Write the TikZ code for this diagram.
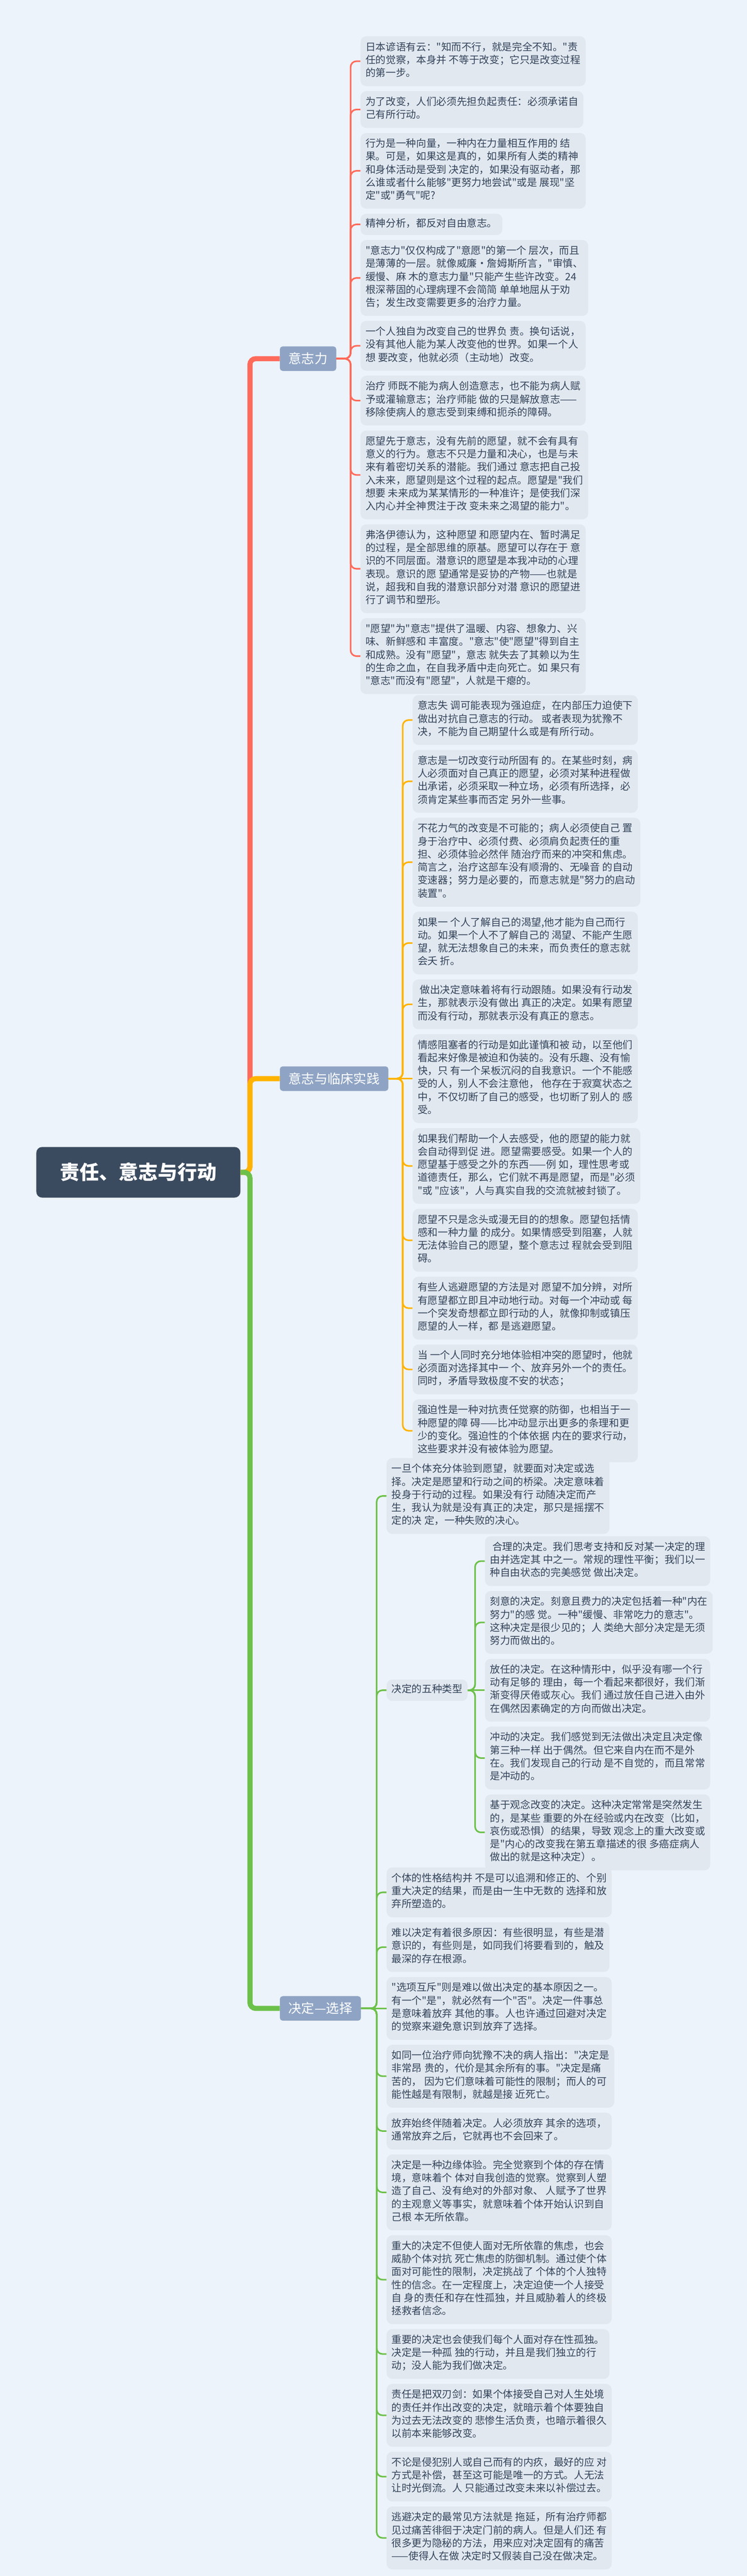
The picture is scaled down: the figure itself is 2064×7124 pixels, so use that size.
\documentclass[tikz,border=0pt]{standalone}
\usepackage{fontspec}
\setmainfont{Noto Sans CJK SC}[Ligatures=TeXOff]
\usetikzlibrary{positioning, calc}
\definecolor{bgcol}{HTML}{EDF3FA}
\definecolor{leafcol}{HTML}{E1E8F0}
\definecolor{inkcol}{HTML}{33435A}
\definecolor{rootcol}{HTML}{3B4B5F}
\definecolor{branchcol}{HTML}{8FA4C4}
\definecolor{willcol}{HTML}{FF6B5B}
\definecolor{clinicol}{HTML}{FFB300}
\definecolor{choicecol}{HTML}{6CC14A}

\begin{document}
\begin{tikzpicture}[x=0.5pt, y=-0.5pt, node distance=6.5pt,
  rootbox/.style={fill=rootcol, text=white, rounded corners=8pt, minimum width=282pt, minimum height=70pt, font=\fontsize{27}{32}\selectfont\bfseries},
  branchbox/.style={fill=branchcol, text=white, rounded corners=4pt, inner xsep=12pt, minimum height=34pt, font=\fontsize{18}{22}\selectfont},
  leaf/.style={fill=leafcol, text=inkcol, rounded corners=8pt, align=left, inner xsep=7pt, inner ysep=7.8pt, font=\fontsize{14}{18}\selectfont, execute at begin node=\strut},
  trunk/.style={line width=7pt, rounded corners=8pt},
  twig/.style={line width=2.2pt, rounded corners=8pt}]
\fill[bgcol] (0,0) rectangle (2064,7124);

\node[leaf, anchor=north west] (b1-1) at (996,100) {日本谚语有云："知而不行，就是完全不知。"责\\任的觉察，本身并 不等于改变；它只是改变过程\\的第一步。};
\node[leaf, below=of b1-1.south west, anchor=north west] (b1-2) {为了改变，人们必须先担负起责任：必须承诺自\\己有所行动。};
\node[leaf, below=of b1-2.south west, anchor=north west] (b1-3) {行为是一种向量，一种内在力量相互作用的 结\\果。可是，如果这是真的，如果所有人类的精神\\和身体活动是受到 决定的，如果没有驱动者，那\\么谁或者什么能够"更努力地尝试"或是 展现"坚\\定"或"勇气"呢?};
\node[leaf, inner ysep=5.75pt, below=of b1-3.south west, anchor=north west] (b1-4) {精神分析，都反对自由意志。};
\node[leaf, below=of b1-4.south west, anchor=north west] (b1-5) {"意志力"仅仅构成了"意愿"的第一个 层次，而且\\是薄薄的一层。就像威廉·詹姆斯所言，"审慎、\\缓慢、麻 木的意志力量"只能产生些许改变。24\\根深蒂固的心理病理不会简简 单单地屈从于劝\\告；发生改变需要更多的治疗力量。};
\node[leaf, below=of b1-5.south west, anchor=north west] (b1-6) {一个人独自为改变自己的世界负 责。换句话说，\\没有其他人能为某人改变他的世界。如果一个人\\想 要改变，他就必须（主动地）改变。};
\node[leaf, below=of b1-6.south west, anchor=north west] (b1-7) {治疗 师既不能为病人创造意志，也不能为病人赋\\予或灌输意志；治疗师能 做的只是解放意志——\\移除使病人的意志受到束缚和扼杀的障碍。};
\node[leaf, below=of b1-7.south west, anchor=north west] (b1-8) {愿望先于意志，没有先前的愿望，就不会有具有\\意义的行为。意志不只是力量和决心，也是与未\\来有着密切关系的潜能。我们通过 意志把自己投\\入未来，愿望则是这个过程的起点。愿望是"我们\\想要 未来成为某某情形的一种准许；是使我们深\\入内心并全神贯注于改 变未来之渴望的能力"。};
\node[leaf, below=of b1-8.south west, anchor=north west] (b1-9) {弗洛伊德认为，这种愿望 和愿望内在、暂时满足\\的过程，是全部思维的原基。愿望可以存在于 意\\识的不同层面。潜意识的愿望是本我冲动的心理\\表现。意识的愿 望通常是妥协的产物——也就是\\说，超我和自我的潜意识部分对潜 意识的愿望进\\行了调节和塑形。};
\node[leaf, below=of b1-9.south west, anchor=north west] (b1-10) {"愿望"为"意志"提供了温暖、内容、想象力、兴\\味、新鲜感和 丰富度。"意志"使"愿望"得到自主\\和成熟。没有"愿望"，意志 就失去了其赖以为生\\的生命之血，在自我矛盾中走向死亡。如 果只有\\"意志"而没有"愿望"，人就是干瘪的。};

\node[leaf, anchor=north west] (b2-1) at (1140,1922) {意志失 调可能表现为强迫症，在内部压力迫使下\\做出对抗自己意志的行动。 或者表现为犹豫不\\决，不能为自己期望什么或是有所行动。};
\node[leaf, below=of b2-1.south west, anchor=north west] (b2-2) {意志是一切改变行动所固有 的。在某些时刻，病\\人必须面对自己真正的愿望，必须对某种进程做\\出承诺，必须采取一种立场，必须有所选择，必\\须肯定某些事而否定 另外一些事。};
\node[leaf, below=of b2-2.south west, anchor=north west] (b2-3) {不花力气的改变是不可能的；病人必须使自己 置\\身于治疗中、必须付费、必须肩负起责任的重\\担、必须体验必然伴 随治疗而来的冲突和焦虑。\\简言之，治疗这部车没有顺滑的、无噪音 的自动\\变速器；努力是必要的，而意志就是"努力的启动\\装置"。};
\node[leaf, below=of b2-3.south west, anchor=north west] (b2-4) {如果一 个人了解自己的渴望,他才能为自己而行\\动。如果一个人不了解自己的 渴望、不能产生愿\\望，就无法想象自己的未来，而负责任的意志就\\会夭 折。};
\node[leaf, below=of b2-4.south west, anchor=north west] (b2-5) {\ 做出决定意味着将有行动跟随。如果没有行动发\\生，那就表示没有做出 真正的决定。如果有愿望\\而没有行动，那就表示没有真正的意志。};
\node[leaf, below=of b2-5.south west, anchor=north west] (b2-6) {情感阻塞者的行动是如此谨慎和被 动，以至他们\\看起来好像是被迫和伪装的。没有乐趣、没有愉\\快，只 有一个呆板沉闷的自我意识。一个不能感\\受的人，别人不会注意他， 他存在于寂寞状态之\\中，不仅切断了自己的感受，也切断了别人的 感\\受。};
\node[leaf, below=of b2-6.south west, anchor=north west] (b2-7) {如果我们帮助一个人去感受，他的愿望的能力就\\会自动得到促 进。愿望需要感受。如果一个人的\\愿望基于感受之外的东西——例 如，理性思考或\\道德责任，那么，它们就不再是愿望，而是"必须\\"或 "应该"，人与真实自我的交流就被封锁了。};
\node[leaf, below=of b2-7.south west, anchor=north west] (b2-8) {愿望不只是念头或漫无目的的想象。愿望包括情\\感和一种力量 的成分。如果情感受到阻塞，人就\\无法体验自己的愿望，整个意志过 程就会受到阻\\碍。};
\node[leaf, below=of b2-8.south west, anchor=north west] (b2-9) {有些人逃避愿望的方法是对 愿望不加分辨，对所\\有愿望都立即且冲动地行动。对每一个冲动或 每\\一个突发奇想都立即行动的人，就像抑制或镇压\\愿望的人一样，都 是逃避愿望。};
\node[leaf, below=of b2-9.south west, anchor=north west] (b2-10) {当 一个人同时充分地体验相冲突的愿望时，他就\\必须面对选择其中一 个、放弃另外一个的责任。\\同时，矛盾导致极度不安的状态；};
\node[leaf, below=of b2-10.south west, anchor=north west] (b2-11) {强迫性是一种对抗责任觉察的防御，也相当于一\\种愿望的障 碍——比冲动显示出更多的条理和更\\少的变化。强迫性的个体依据 内在的要求行动，\\这些要求并没有被体验为愿望。};

\node[leaf, anchor=north west] (b3-1) at (1068,4032) {一旦个体充分体验到愿望，就要面对决定或选\\择。决定是愿望和行动之间的桥梁。决定意味着\\投身于行动的过程。如果没有行 动随决定而产\\生，我认为就是没有真正的决定，那只是摇摆不\\定的决 定，一种失败的决心。};
\node[leaf, anchor=north west] (c1) at (1340,4248) {\ 合理的决定。我们思考支持和反对某一决定的理\\由并选定其 中之一。常规的理性平衡；我们以一\\种自由状态的完美感觉 做出决定。};
\node[leaf, below=of c1.south west, anchor=north west] (c2) {刻意的决定。刻意且费力的决定包括着一种"内在\\努力"的感 觉。一种"缓慢、非常吃力的意志"。\\这种决定是很少见的；人 类绝大部分决定是无须\\努力而做出的。};
\node[leaf, below=of c2.south west, anchor=north west] (c3) {放任的决定。在这种情形中，似乎没有哪一个行\\动有足够的 理由，每一个看起来都很好，我们渐\\渐变得厌倦或灰心。我们 通过放任自己进入由外\\在偶然因素确定的方向而做出决定。};
\node[leaf, below=of c3.south west, anchor=north west] (c4) {冲动的决定。我们感觉到无法做出决定且决定像\\第三种一样 出于偶然。但它来自内在而不是外\\在。我们发现自己的行动 是不自觉的，而且常常\\是冲动的。};
\node[leaf, below=of c4.south west, anchor=north west] (c5) {基于观念改变的决定。这种决定常常是突然发生\\的，是某些 重要的外在经验或内在改变（比如，\\哀伤或恐惧）的结果，导致 观念上的重大改变或\\是"内心的改变我在第五章描述的很 多癌症病人\\做出的就是这种决定）。};
\node[leaf, inner ysep=5.75pt, anchor=west] (fv) at (c3.west -| b3-1.west) {决定的五种类型};
\node[leaf, anchor=north west] (b3-2) at (1068,5164) {个体的性格结构并 不是可以追溯和修正的、个别\\重大决定的结果，而是由一生中无数的 选择和放\\弃所塑造的。};
\node[leaf, below=of b3-2.south west, anchor=north west] (b3-3) {难以决定有着很多原因：有些很明显，有些是潜\\意识的，有些则是，如同我们将要看到的，触及\\最深的存在根源。};
\node[leaf, below=of b3-3.south west, anchor=north west] (b3-4) {"选项互斥"则是难以做出决定的基本原因之一。\\有一个"是"，就必然有一个"否"。决定一件事总\\是意味着放弃 其他的事。人也许通过回避对决定\\的觉察来避免意识到放弃了选择。};
\node[leaf, below=of b3-4.south west, anchor=north west] (b3-5) {如同一位治疗师向犹豫不决的病人指出："决定是\\非常昂 贵的，代价是其余所有的事。"决定是痛\\苦的， 因为它们意味着可能性的限制；而人的可\\能性越是有限制，就越是接 近死亡。};
\node[leaf, below=of b3-5.south west, anchor=north west] (b3-6) {放弃始终伴随着决定。人必须放弃 其余的选项，\\通常放弃之后，它就再也不会回来了。};
\node[leaf, below=of b3-6.south west, anchor=north west] (b3-7) {决定是一种边缘体验。完全觉察到个体的存在情\\境，意味着个 体对自我创造的觉察。觉察到人塑\\造了自己、没有绝对的外部对象、 人赋予了世界\\的主观意义等事实，就意味着个体开始认识到自\\己根 本无所依靠。};
\node[leaf, below=of b3-7.south west, anchor=north west] (b3-8) {重大的决定不但使人面对无所依靠的焦虑，也会\\威胁个体对抗 死亡焦虑的防御机制。通过使个体\\面对可能性的限制，决定挑战了 个体的个人独特\\性的信念。在一定程度上，决定迫使一个人接受\\自 身的责任和存在性孤独，并且威胁着人的终极\\拯救者信念。};
\node[leaf, below=of b3-8.south west, anchor=north west] (b3-9) {重要的决定也会使我们每个人面对存在性孤独。\\决定是一种孤 独的行动，并且是我们独立的行\\动；没人能为我们做决定。};
\node[leaf, below=of b3-9.south west, anchor=north west] (b3-10) {责任是把双刃剑：如果个体接受自己对人生处境\\的责任并作出改变的决定，就暗示着个体要独自\\为过去无法改变的 悲惨生活负责，也暗示着很久\\以前本来能够改变。};
\node[leaf, below=of b3-10.south west, anchor=north west] (b3-11) {不论是侵犯别人或自己而有的内疚，最好的应 对\\方式是补偿，甚至这可能是唯一的方式。人无法\\让时光倒流。人 只能通过改变未来以补偿过去。};
\node[leaf, below=of b3-11.south west, anchor=north west] (b3-12) {逃避决定的最常见方法就是 拖延，所有治疗师都\\见过痛苦徘徊于决定门前的病人。但是人们还 有\\很多更为隐秘的方法，用来应对决定固有的痛苦\\——使得人在做 决定时又假装自己没在做决定。};

\coordinate (x0) at (773,0);
\path ($(b1-1.west)!0.5!(b1-10.west)$) coordinate (m1);
\node[branchbox, anchor=west] (n1) at (m1 -| x0) {意志力};
\node[branchbox, anchor=west] (n2) at (b2-6.west -| x0) {意志与临床实践};
\node[branchbox, anchor=west] (n3) at (b3-4.west -| x0) {决定—选择};
\node[rootbox, anchor=west] (root) at (100,3242) {责任、意志与行动};

\coordinate (trunk) at ([xshift=13pt]root.east);
\draw[trunk, willcol] (root.east) -- (trunk) |- (n1.west);
\draw[trunk, clinicol] (root.east) -- (trunk) |- (n2.west);
\draw[trunk, choicecol] (root.east) -- (trunk) |- (n3.west);

\coordinate (j1) at (969,0);
\draw[twig, willcol] (n1.east) -- (n1.east -| j1) |- (b1-1.west);
\draw[twig, willcol] (n1.east) -- (n1.east -| j1) |- (b1-2.west);
\draw[twig, willcol] (n1.east) -- (n1.east -| j1) |- (b1-3.west);
\draw[twig, willcol] (n1.east) -- (n1.east -| j1) |- (b1-4.west);
\draw[twig, willcol] (n1.east) -- (n1.east -| j1) |- (b1-5.west);
\draw[twig, willcol] (n1.east) -- (n1.east -| j1) |- (b1-6.west);
\draw[twig, willcol] (n1.east) -- (n1.east -| j1) |- (b1-7.west);
\draw[twig, willcol] (n1.east) -- (n1.east -| j1) |- (b1-8.west);
\draw[twig, willcol] (n1.east) -- (n1.east -| j1) |- (b1-9.west);
\draw[twig, willcol] (n1.east) -- (n1.east -| j1) |- (b1-10.west);

\coordinate (j2) at (1113,0);
\draw[twig, clinicol] (n2.east) -- (n2.east -| j2) |- (b2-1.west);
\draw[twig, clinicol] (n2.east) -- (n2.east -| j2) |- (b2-2.west);
\draw[twig, clinicol] (n2.east) -- (n2.east -| j2) |- (b2-3.west);
\draw[twig, clinicol] (n2.east) -- (n2.east -| j2) |- (b2-4.west);
\draw[twig, clinicol] (n2.east) -- (n2.east -| j2) |- (b2-5.west);
\draw[twig, clinicol] (n2.east) -- (b2-6.west);
\draw[twig, clinicol] (n2.east) -- (n2.east -| j2) |- (b2-7.west);
\draw[twig, clinicol] (n2.east) -- (n2.east -| j2) |- (b2-8.west);
\draw[twig, clinicol] (n2.east) -- (n2.east -| j2) |- (b2-9.west);
\draw[twig, clinicol] (n2.east) -- (n2.east -| j2) |- (b2-10.west);
\draw[twig, clinicol] (n2.east) -- (n2.east -| j2) |- (b2-11.west);

\coordinate (j3) at (1041,0);
\draw[twig, choicecol] (n3.east) -- (n3.east -| j3) |- (b3-1.west);
\draw[twig, choicecol] (n3.east) -- (n3.east -| j3) |- (fv.west);
\draw[twig, choicecol] (n3.east) -- (n3.east -| j3) |- (b3-2.west);
\draw[twig, choicecol] (n3.east) -- (n3.east -| j3) |- (b3-3.west);
\draw[twig, choicecol] (n3.east) -- (b3-4.west);
\draw[twig, choicecol] (n3.east) -- (n3.east -| j3) |- (b3-5.west);
\draw[twig, choicecol] (n3.east) -- (n3.east -| j3) |- (b3-6.west);
\draw[twig, choicecol] (n3.east) -- (n3.east -| j3) |- (b3-7.west);
\draw[twig, choicecol] (n3.east) -- (n3.east -| j3) |- (b3-8.west);
\draw[twig, choicecol] (n3.east) -- (n3.east -| j3) |- (b3-9.west);
\draw[twig, choicecol] (n3.east) -- (n3.east -| j3) |- (b3-10.west);
\draw[twig, choicecol] (n3.east) -- (n3.east -| j3) |- (b3-11.west);
\draw[twig, choicecol] (n3.east) -- (n3.east -| j3) |- (b3-12.west);

\coordinate (jf) at (1313,0);
\draw[twig, choicecol] (fv.east) -- (fv.east -| jf) |- (c1.west);
\draw[twig, choicecol] (fv.east) -- (fv.east -| jf) |- (c2.west);
\draw[twig, choicecol] (fv.east) -- (c3.west);
\draw[twig, choicecol] (fv.east) -- (fv.east -| jf) |- (c4.west);
\draw[twig, choicecol] (fv.east) -- (fv.east -| jf) |- (c5.west);
\end{tikzpicture}
\end{document}
